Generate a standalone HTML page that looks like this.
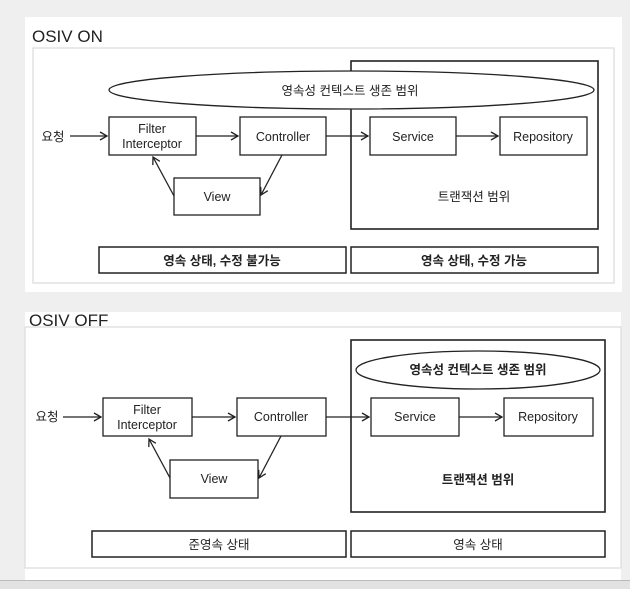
<!DOCTYPE html>
<html><head><meta charset="utf-8"><style>
body{margin:0;width:630px;height:588px;background:#efefef;overflow:hidden;position:relative;font-family:"Liberation Sans","Noto Sans CJK KR",sans-serif}
</style></head><body>
<div style="position:absolute;left:25px;top:17px;width:597px;height:275px;background:#fff"></div>
<div style="position:absolute;left:25px;top:312px;width:596px;height:268px;background:#fff"></div>
<div style="position:absolute;left:0;top:580px;width:630px;height:8px;background:#e2e2e2;border-top:1px solid #bbb"></div>
<svg width="630" height="588" style="position:absolute;left:0;top:0" font-family="Liberation Sans, Noto Sans CJK KR, sans-serif">
<defs><marker id="a" markerWidth="10" markerHeight="10" refX="8" refY="5" orient="auto" markerUnits="userSpaceOnUse"><path d="M1,1 L8,5 L1,9" fill="none" stroke="#222" stroke-width="1.3"/></marker></defs>
<g stroke="#222" stroke-width="1.3" fill="none">
<!-- top -->
<rect x="33" y="48" width="581" height="235" stroke="#ddd"/>
<rect x="351" y="61" width="247" height="168" stroke-width="1.6"/>
<ellipse cx="351.5" cy="90" rx="242.5" ry="19" fill="#fff"/>
<rect x="109" y="117" width="87" height="38"/>
<rect x="240" y="117" width="86" height="38"/>
<rect x="370" y="117" width="86" height="38"/>
<rect x="500" y="117" width="87" height="38"/>
<rect x="174" y="178" width="86" height="37"/>
<rect x="99" y="247" width="247" height="26" stroke-width="1.5"/>
<rect x="351" y="247" width="247" height="26" stroke-width="1.5"/>
<line x1="70" y1="136" x2="107" y2="136" marker-end="url(#a)"/>
<line x1="196" y1="136" x2="238" y2="136" marker-end="url(#a)"/>
<line x1="326" y1="136" x2="368" y2="136" marker-end="url(#a)"/>
<line x1="456" y1="136" x2="498" y2="136" marker-end="url(#a)"/>
<line x1="282" y1="155" x2="261" y2="195" marker-end="url(#a)"/>
<line x1="174" y1="196" x2="153" y2="157" marker-end="url(#a)"/>
<!-- bottom -->
<rect x="25" y="327" width="596" height="241" stroke="#ddd"/>
<rect x="351" y="340" width="254" height="172" stroke-width="1.6"/>
<ellipse cx="478" cy="370" rx="122" ry="19"/>
<rect x="103" y="398" width="89" height="38"/>
<rect x="237" y="398" width="89" height="38"/>
<rect x="371" y="398" width="88" height="38"/>
<rect x="504" y="398" width="89" height="38"/>
<rect x="170" y="460" width="88" height="38"/>
<rect x="92" y="531" width="254" height="26" stroke-width="1.5"/>
<rect x="351" y="531" width="254" height="26" stroke-width="1.5"/>
<line x1="63" y1="417" x2="101" y2="417" marker-end="url(#a)"/>
<line x1="192" y1="417" x2="235" y2="417" marker-end="url(#a)"/>
<line x1="326" y1="417" x2="369" y2="417" marker-end="url(#a)"/>
<line x1="459" y1="417" x2="502" y2="417" marker-end="url(#a)"/>
<line x1="281" y1="436" x2="259" y2="478" marker-end="url(#a)"/>
<line x1="170" y1="478" x2="149" y2="439" marker-end="url(#a)"/>
</g>
<g fill="#222" font-size="12.5" text-anchor="middle">
<text x="32" y="42" font-size="17" text-anchor="start">OSIV ON</text>
<text x="350" y="95">영속성 컨텍스트 생존 범위</text>
<text x="53" y="141">요청</text>
<text x="152" y="133">Filter</text>
<text x="152" y="148">Interceptor</text>
<text x="283" y="141">Controller</text>
<text x="413" y="141">Service</text>
<text x="543" y="141">Repository</text>
<text x="217" y="201">View</text>
<text x="474" y="201">트랜잭션 범위</text>
<text x="222" y="265" font-weight="bold">영속 상태, 수정 불가능</text>
<text x="474" y="265" font-weight="bold">영속 상태, 수정 가능</text>
<text x="29" y="326" font-size="17" text-anchor="start">OSIV OFF</text>
<text x="478" y="374" font-weight="bold">영속성 컨텍스트 생존 범위</text>
<text x="47" y="421">요청</text>
<text x="147" y="414">Filter</text>
<text x="147" y="429">Interceptor</text>
<text x="281" y="421">Controller</text>
<text x="415" y="421">Service</text>
<text x="548" y="421">Repository</text>
<text x="214" y="483">View</text>
<text x="478" y="484" font-weight="bold">트랜잭션 범위</text>
<text x="219" y="549">준영속 상태</text>
<text x="478" y="549">영속 상태</text>
</g>
</svg>
</body></html>
